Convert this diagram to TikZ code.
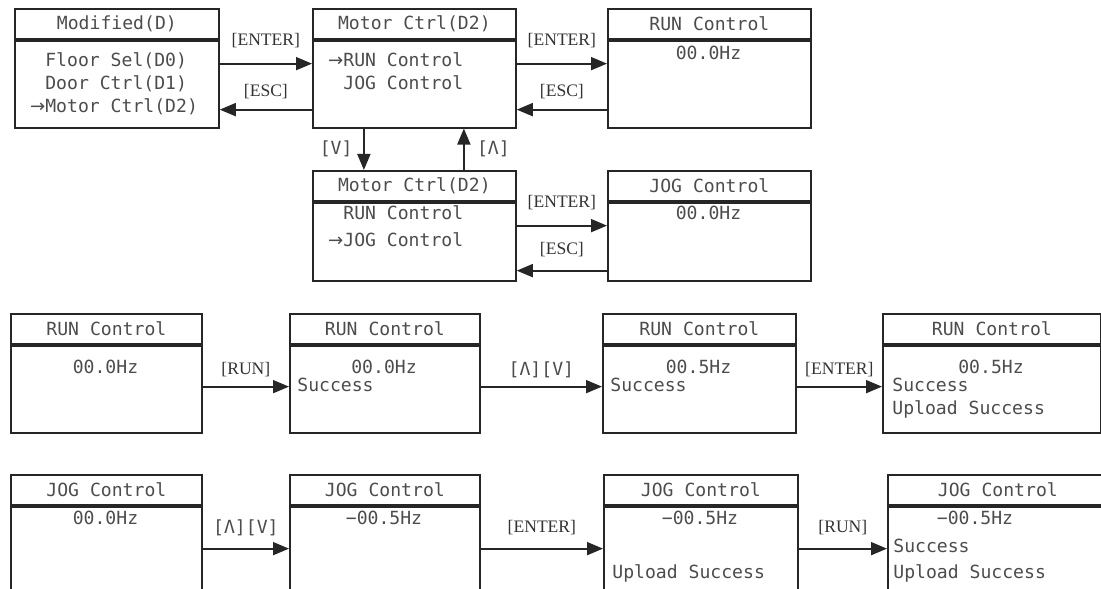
\documentclass[tikz,border=0pt]{standalone}
\usepackage{fontspec}
\setmainfont{Liberation Serif}
\newfontfamily\lcd{DejaVu Sans Mono}
\newfontfamily\sym{DejaVu Sans}
\usetikzlibrary{arrows.meta,calc}

\begin{document}
\begin{tikzpicture}[
  >={Triangle[length=3.2mm,width=2.6mm]},
  ttl/.style={draw=black!85, line width=1pt, anchor=north west, inner sep=0pt,
              minimum height=0.6cm, font=\lcd\fontsize{10.3}{12}\selectfont, text=black!70},
  pane/.style={draw=black!85, line width=1pt, anchor=north west, inner sep=0pt},
  txt/.style={inner sep=0pt, font=\lcd\fontsize{10.3}{12}\selectfont, text=black!70},
  key/.style={inner sep=0pt, font=\fontsize{10}{12}\selectfont, text=black!80},
  arr/.style={->, line width=1pt, black!85},
]
\useasboundingbox (0,0) rectangle (22.02,-11.78);
\clip (0,0) rectangle (22.02,-11.78);

% top row: menu D -> D2 -> RUN
\node[ttl, minimum width=4.08cm] (modT) at (0.28,-0.16) {Modified(D)};
\node[pane, minimum width=4.08cm, minimum height=1.74cm] (mod) at (modT.south west) {};
\node[txt, anchor=west] (d0) at (0.90,-1.22) {Floor Sel(D0)};
\node[txt, anchor=west] (d1) at (0.90,-1.68) {Door Ctrl(D1)};
\node[txt, anchor=west] (d2) at (0.90,-2.14) {\llap{\sym→}Motor Ctrl(D2)};

\node[ttl, minimum width=4.06cm] (motT) at (6.24,-0.16) {Motor Ctrl(D2)};
\node[pane, minimum width=4.06cm, minimum height=1.74cm] (mot) at (motT.south west) {};
\node[txt, anchor=west] (mRun) at (6.86,-1.20) {\llap{\sym→}RUN Control};
\node[txt, anchor=west] (mJog) at (6.86,-1.66) {JOG Control};

\node[ttl, minimum width=4.06cm] (runT) at (12.14,-0.16) {RUN Control};
\node[pane, minimum width=4.06cm, minimum height=1.74cm] (run) at (runT.south west) {};
\node[txt] (runHz) at (14.17,-1.06) {00.0Hz};

\draw[arr] ([yshift=4.1mm]mod.east) -- node[key, yshift=13pt]{[ENTER]} ([yshift=4.1mm]mot.west);
\draw[arr] ([yshift=-5.1mm]mot.west) -- node[key, yshift=10.5pt]{[ESC]} ([yshift=-5.1mm]mod.east);
\draw[arr] ([yshift=4.1mm]mot.east) -- node[key, yshift=13pt]{[ENTER]} ([yshift=4.1mm]run.west);
\draw[arr] ([yshift=-5.1mm]run.west) -- node[key, yshift=10.5pt]{[ESC]} ([yshift=-5.1mm]mot.east);

% second menu: D2 with JOG selected
\node[ttl, minimum width=4.06cm] (mot2T) at (6.24,-3.40) {Motor Ctrl(D2)};
\node[pane, minimum width=4.06cm, minimum height=1.56cm] (mot2) at (mot2T.south west) {};
\node[txt, anchor=west] (m2Run) at (6.86,-4.26) {RUN Control};
\node[txt, anchor=west] (m2Jog) at (6.86,-4.80) {\llap{\sym→}JOG Control};

\node[ttl, minimum width=4.06cm] (jogT) at (12.14,-3.40) {JOG Control};
\node[pane, minimum width=4.06cm, minimum height=1.56cm] (jog) at (jogT.south west) {};
\node[txt] (jogHz) at (14.17,-4.26) {00.0Hz};

\draw[arr] ([xshift=-10.1mm]mot.south) -- node[txt, left=6pt]{[V]} ([xshift=-10.1mm]mot2T.north);
\draw[arr] ([xshift=9.9mm]mot2T.north) -- node[txt, right=7pt]{[Λ]} ([xshift=9.9mm]mot.south);
\draw[arr] ([yshift=3.2mm]mot2.east) -- node[key, yshift=13pt]{[ENTER]} ([yshift=3.2mm]jog.west);
\draw[arr] ([yshift=-5.8mm]jog.west) -- node[key, yshift=12pt]{[ESC]} ([yshift=-5.8mm]mot2.east);

% RUN sequence
\node[ttl, minimum width=3.82cm] (r1T) at (0.20,-6.26) {RUN Control};
\node[pane, minimum width=3.82cm, minimum height=1.74cm] (r1) at (r1T.south west) {};
\node[txt] (r1Hz) at (2.11,-7.34) {00.0Hz};

\node[ttl, minimum width=3.80cm] (r2T) at (5.78,-6.26) {RUN Control};
\node[pane, minimum width=3.80cm, minimum height=1.74cm] (r2) at (r2T.south west) {};
\node[txt] (r2Hz) at (7.68,-7.34) {00.0Hz};
\node[txt, anchor=west] (r2Ok) at (5.94,-7.70) {Success};

\node[ttl, minimum width=3.86cm] (r3T) at (12.04,-6.26) {RUN Control};
\node[pane, minimum width=3.86cm, minimum height=1.74cm] (r3) at (r3T.south west) {};
\node[txt] (r3Hz) at (13.97,-7.34) {00.5Hz};
\node[txt, anchor=west] (r3Ok) at (12.20,-7.70) {Success};

\node[ttl, minimum width=4.36cm] (r4T) at (17.64,-6.26) {RUN Control};
\node[pane, minimum width=4.36cm, minimum height=1.74cm] (r4) at (r4T.south west) {};
\node[txt] (r4Hz) at (19.82,-7.34) {00.5Hz};
\node[txt, anchor=west] (r4Ok) at (17.84,-7.70) {Success};
\node[txt, anchor=west] (r4Up) at (17.84,-8.18) {Upload Success};

\draw[arr] ([yshift=0.5mm]r1.east) -- node[key, yshift=9.5pt]{[RUN]} ([yshift=0.5mm]r2.west);
\draw[arr] ([yshift=0.5mm]r2.east) -- node[txt, yshift=9.5pt]{[Λ][V]} ([yshift=0.5mm]r3.west);
\draw[arr] ([yshift=0.5mm]r3.east) -- node[key, yshift=9.5pt]{[ENTER]} ([yshift=0.5mm]r4.west);

% JOG sequence
\node[ttl, minimum width=3.82cm] (j1T) at (0.20,-9.48) {JOG Control};
\node[pane, minimum width=3.82cm, minimum height=2.2cm] (j1) at (j1T.south west) {};
\node[txt] (j1Hz) at (2.11,-10.36) {00.0Hz};

\node[ttl, minimum width=3.80cm] (j2T) at (5.78,-9.48) {JOG Control};
\node[pane, minimum width=3.80cm, minimum height=2.2cm] (j2) at (j2T.south west) {};
\node[txt] (j2Hz) at (7.68,-10.36) {−00.5Hz};

\node[ttl, minimum width=3.88cm] (j3T) at (12.06,-9.48) {JOG Control};
\node[pane, minimum width=3.88cm, minimum height=2.2cm] (j3) at (j3T.south west) {};
\node[txt] (j3Hz) at (14.00,-10.36) {−00.5Hz};
\node[txt, anchor=west] (j3Up) at (12.24,-11.46) {Upload Success};

\node[ttl, minimum width=4.4cm] (j4T) at (17.74,-9.48) {JOG Control};
\node[pane, minimum width=4.4cm, minimum height=2.2cm] (j4) at (j4T.south west) {};
\node[txt] (j4Hz) at (19.50,-10.36) {−00.5Hz};
\node[txt, anchor=west] (j4Ok) at (17.86,-10.92) {Success};
\node[txt, anchor=west] (j4Up) at (17.86,-11.46) {Upload Success};

\draw[arr] ([yshift=2.6mm]j1.east) -- node[txt, yshift=12pt]{[Λ][V]} ([yshift=2.6mm]j2.west);
\draw[arr] ([yshift=2.6mm]j2.east) -- node[key, yshift=12pt]{[ENTER]} ([yshift=2.6mm]j3.west);
\draw[arr] ([yshift=2.6mm]j3.east) -- node[key, yshift=12pt]{[RUN]} ([yshift=2.6mm]j4.west);
\end{tikzpicture}
\end{document}
